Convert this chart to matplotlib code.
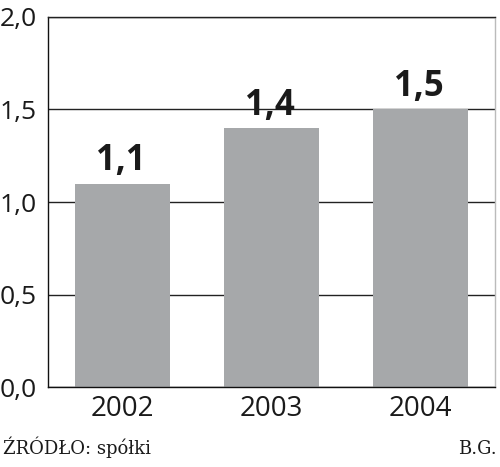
import matplotlib.pyplot as plt

plt.rcParams['font.family'] = ['Open Sans', 'DejaVu Sans']

lata = ["2002", "2003", "2004"]
wartosci = [1.1, 1.4, 1.5]
etykiety = ["1,1", "1,4", "1,5"]
ticki_y = [0.0, 0.5, 1.0, 1.5, 2.0]
ticki_y_lab = ["0,0", "0,5", "1,0", "1,5", "2,0"]

fig = plt.figure(figsize=(5, 4.67), dpi=100)
ax = fig.add_axes([0.096, 0.1713, 0.894, 0.7923])

x = range(len(lata))
ax.bar(x, wartosci, width=0.64, color="#a6a8aa", zorder=2)

for xi, v, lab in zip(x, wartosci, etykiety):
    ax.annotate(lab, (xi, v), xytext=(-1, 3), textcoords="offset points",
                ha="center", va="bottom", fontsize=25, fontweight="bold",
                color="#1a1a1a")

ax.set_xlim(-0.5, 2.5)
ax.set_ylim(0, 2.0)
ax.set_yticks(ticki_y)
ax.set_yticklabels(ticki_y_lab)
ax.set_xticks(list(x))
ax.set_xticklabels(lata)
ax.tick_params(axis="both", length=0, labelsize=19, colors="#1a1a1a")
ax.tick_params(axis="x", labelsize=20, pad=6)
ax.tick_params(axis="y", pad=8)

ax.yaxis.grid(True, color="#222222", linewidth=1.0, zorder=1)
ax.set_axisbelow(True)

ax.spines["left"].set_color("#111111")
ax.spines["bottom"].set_color("#111111")
ax.spines["top"].set_color("#222222")
ax.spines["right"].set_color("#bbbbbb")
for s in ax.spines.values():
    s.set_linewidth(1.0)

fig.text(0.006, 0.028, "ŹRÓDŁO: spółki", fontsize=13, family="DejaVu Serif",
         color="#1a1a1a", va="baseline")
fig.text(0.994, 0.028, "B.G.", fontsize=13, family="DejaVu Serif",
         color="#1a1a1a", ha="right", va="baseline")

fig.savefig("out.png", dpi=100)
